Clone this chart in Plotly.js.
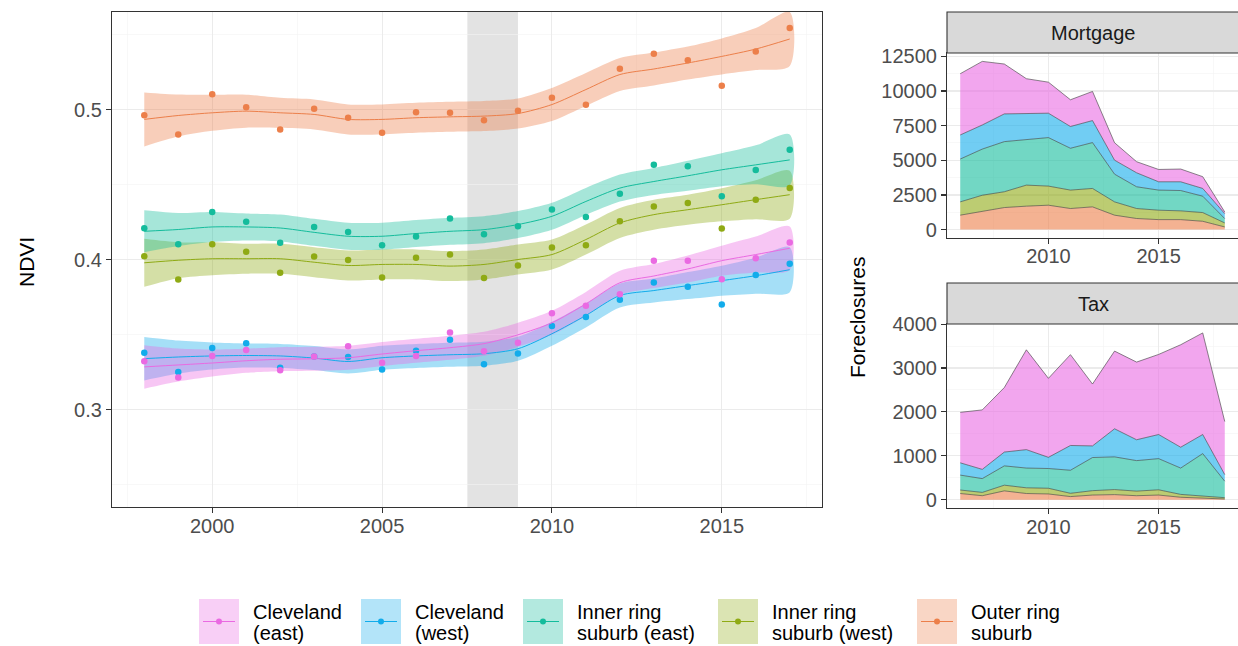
<!DOCTYPE html>
<html>
<head>
<meta charset="utf-8">
<script src="https://cdn.plot.ly/plotly-3.0.1.min.js"></script>
<style>html,body{margin:0;padding:0;background:#fff;}#chart{width:1238px;height:646px;}</style>
</head>
<body>
<div id="chart"></div>
<script>
// ---------------- DATA ----------------
const years = [1998,1999,2000,2001,2002,2003,2004,2005,2006,2007,2008,2009,2010,2011,2012,2013,2014,2015,2016,2017];
const seriesNames = ["Cleveland (east)","Cleveland (west)","Inner ring suburb (east)","Inner ring suburb (west)","Outer ring suburb"];
const legendLines = [["Cleveland","(east)"],["Cleveland","(west)"],["Inner ring","suburb (east)"],["Inner ring","suburb (west)"],["Outer ring","suburb"]];

// NDVI observations
const ndviClevEast  = [0.3321,0.3213,0.3357,0.3397,0.3261,0.3354,0.3421,0.3312,0.3357,0.3514,0.3388,0.3445,0.3642,0.3691,0.3769,0.3992,0.3992,0.3868,0.4008,0.4114];
const ndviClevWest  = [0.3379,0.3250,0.3410,0.3441,0.3279,0.3354,0.3350,0.3266,0.3392,0.3465,0.3301,0.3374,0.3556,0.3616,0.3731,0.3846,0.3819,0.3700,0.3897,0.3972];
const ndviInnerEast = [0.4208,0.4102,0.4317,0.4252,0.4111,0.4217,0.4184,0.4095,0.4153,0.4274,0.4168,0.4221,0.4334,0.4284,0.4439,0.4631,0.4622,0.4421,0.4596,0.4731];
const ndviInnerWest = [0.4022,0.3867,0.4102,0.4051,0.3911,0.4020,0.3996,0.3880,0.4011,0.4033,0.3876,0.3960,0.4080,0.4095,0.4255,0.4354,0.4377,0.4206,0.4399,0.4476];
const ndviOuter     = [0.4962,0.4834,0.5102,0.5015,0.4867,0.5005,0.4945,0.4845,0.4982,0.4978,0.4929,0.4991,0.5078,0.5031,0.5272,0.5372,0.5328,0.5159,0.5387,0.5543];

// Smoothed fits
const fitClevEast  = [0.3284,0.3297,0.3310,0.3325,0.3335,0.3338,0.3345,0.3370,0.3392,0.3412,0.3439,0.3498,0.3578,0.3704,0.3845,0.3890,0.3937,0.3992,0.4033,0.4075];
const fitClevWest  = [0.3339,0.3350,0.3357,0.3360,0.3357,0.3343,0.3320,0.3345,0.3357,0.3365,0.3372,0.3405,0.3505,0.3627,0.3760,0.3793,0.3826,0.3859,0.3892,0.3932];
const fitInnerEast = [0.4188,0.4200,0.4217,0.4217,0.4210,0.4181,0.4155,0.4155,0.4173,0.4188,0.4199,0.4233,0.4288,0.4387,0.4476,0.4520,0.4558,0.4598,0.4631,0.4664];
const fitInnerWest = [0.3978,0.3995,0.4005,0.4005,0.4005,0.3982,0.3960,0.3967,0.3967,0.3956,0.3967,0.4000,0.4033,0.4133,0.4244,0.4299,0.4332,0.4365,0.4399,0.4432];
const fitOuter     = [0.4934,0.4960,0.4978,0.4989,0.4978,0.4967,0.4934,0.4934,0.4945,0.4951,0.4956,0.4973,0.5033,0.5133,0.5233,0.5270,0.5310,0.5354,0.5403,0.5470];

// Confidence half-widths
const seClevEast  = [0.0145,0.011,0.009,0.008,0.008,0.008,0.008,0.008,0.008,0.008,0.008,0.008,0.008,0.008,0.008,0.008,0.009,0.010,0.012,0.0145];
const seClevWest  = [0.0145,0.011,0.009,0.008,0.008,0.008,0.008,0.008,0.008,0.008,0.008,0.008,0.008,0.008,0.008,0.008,0.009,0.010,0.012,0.015];
const seInnerEast = [0.014,0.011,0.010,0.009,0.009,0.009,0.009,0.009,0.009,0.009,0.009,0.009,0.009,0.009,0.009,0.009,0.010,0.011,0.013,0.017];
const seInnerWest = [0.016,0.012,0.011,0.010,0.010,0.010,0.010,0.010,0.010,0.010,0.010,0.010,0.010,0.010,0.010,0.010,0.010,0.011,0.013,0.016];
const seOuter     = [0.018,0.014,0.012,0.011,0.010,0.010,0.010,0.010,0.010,0.010,0.010,0.010,0.011,0.011,0.011,0.011,0.011,0.012,0.014,0.018];

// Foreclosures
const fcYears = [2006,2007,2008,2009,2010,2011,2012,2013,2014,2015,2016,2017,2018];
const mortOuter     = [1040,1300,1590,1690,1760,1520,1640,1040,800,720,720,600,190];
const mortInnerWest = [960,1180,1140,1520,1380,1330,1330,960,720,680,630,630,290];
const mortInnerEast = [3090,3330,3620,3260,3500,3020,3310,2000,1570,1450,1470,1180,310];
const mortClevWest  = [1740,1740,2000,1930,1760,1570,1590,1010,1010,600,630,560,360];
const mortClevEast  = [4420,4590,3600,2490,2240,1930,2100,1260,800,890,920,850,120];

const taxOuter     = [140,90,200,140,130,70,105,115,90,105,55,40,15];
const taxInnerWest = [80,75,130,130,130,75,100,115,105,120,65,45,30];
const taxInnerEast = [340,315,440,450,450,525,755,745,695,710,600,965,375];
const taxClevWest  = [280,210,315,420,255,565,265,640,475,550,475,435,150];
const taxClevEast  = [1150,1355,1470,2275,1800,2070,1410,1770,1770,1825,2335,2315,1210];

const recession = [2007.5, 2009.0];
const ndviTicks = [0.3,0.4,0.5];
const yearTicks = [2000,2005,2010,2015];
const mortTicks = [0,2500,5000,7500,10000,12500];
const taxTicks = [0,1000,2000,3000,4000];

// ---------------- STYLE ----------------
const colors = ["#EA6AE2","#12ACEB","#14BC9C","#8FAA14","#EC7F4A"];
function rgba(hex,a){const n=parseInt(hex.slice(1),16);return `rgba(${(n>>16)&255},${(n>>8)&255},${n&255},${a})`;}
const FONT = "Liberation Sans, Arial, Helvetica, sans-serif";
const W=1238,H=646;
const px = v => v/W, py = v => 1 - v/H;

const obs = [ndviClevEast,ndviClevWest,ndviInnerEast,ndviInnerWest,ndviOuter];
const fits = [fitClevEast,fitClevWest,fitInnerEast,fitInnerWest,fitOuter];
const ses = [seClevEast,seClevWest,seInnerEast,seInnerWest,seOuter];
const mort = [mortClevEast,mortClevWest,mortInnerEast,mortInnerWest,mortOuter];
const tax = [taxClevEast,taxClevWest,taxInnerEast,taxInnerWest,taxOuter];

const traces = [];
// ribbons
for (let i=4;i>=0;i--){
  const up = fits[i].map((v,k)=>v+ses[i][k]);
  const lo = fits[i].map((v,k)=>v-ses[i][k]);
  traces.push({x: years.concat(years.slice().reverse()), y: up.concat(lo.slice().reverse()),
    type:'scatter', mode:'lines', fill:'toself', fillcolor: rgba(colors[i],0.38),
    line:{width:0, shape:'spline', smoothing:0.8}, hoverinfo:'skip', showlegend:false, xaxis:'x', yaxis:'y'});
}
for (let i=4;i>=0;i--){
  traces.push({x: years, y: fits[i], type:'scatter', mode:'lines', line:{color:colors[i], width:1, shape:'spline', smoothing:0.8},
    showlegend:false, xaxis:'x', yaxis:'y', name: seriesNames[i]});
  traces.push({x: years, y: obs[i], type:'scatter', mode:'markers', marker:{color:colors[i], size:6.5},
    showlegend:false, xaxis:'x', yaxis:'y', name: seriesNames[i]});
}
// stacked areas (bottom: outer ring)
for (let i=4;i>=0;i--){
  traces.push({x: fcYears, y: mort[i], type:'scatter', mode:'lines', stackgroup:'m', fillcolor: rgba(colors[i],0.6),
    line:{color:'#3c3c3c', width:0.6}, showlegend:false, xaxis:'x2', yaxis:'y2', name: seriesNames[i]});
}
for (let i=4;i>=0;i--){
  traces.push({x: fcYears, y: tax[i], type:'scatter', mode:'lines', stackgroup:'t', fillcolor: rgba(colors[i],0.6),
    line:{color:'#3c3c3c', width:0.6}, showlegend:false, xaxis:'x3', yaxis:'y3', name: seriesNames[i]});
}

const tickFont = {family:FONT, size:20, color:'#4D4D4D'};
const common = {showline:true, mirror:true, linecolor:'#333333', linewidth:1.1, ticks:'outside', ticklen:5,
  tickcolor:'#333333', tickwidth:1.1, showgrid:true, gridcolor:'#EBEBEB', gridwidth:1.1, zeroline:false,
  tickfont:tickFont, automargin:false, fixedrange:true};

const xLeftDom=[px(112),px(822)], yLeftDom=[py(507),py(12)];
const xRightDom=[px(947),1], yMortDom=[py(238),py(53)], yTaxDom=[py(508),py(324)];
const minorGrid = vals => ({tickvals:vals, showgrid:true, gridcolor:'#F4F4F4', gridwidth:0.6, ticks:''});

const layout = {
  width:W, height:H, margin:{l:0,r:0,t:0,b:0}, paper_bgcolor:'#fff', plot_bgcolor:'#fff',
  showlegend:false, font:{family:FONT},
  xaxis: Object.assign({}, common, {domain:xLeftDom, anchor:'y', range:[1997.05,2017.95], tickvals:yearTicks,
    ticktext:yearTicks.map(String), ticklabelstandoff:-4, minor:minorGrid([1997.5,2002.5,2007.5,2012.5,2017.5])}),
  yaxis: Object.assign({}, common, {domain:yLeftDom, anchor:'x', range:[0.235,0.565], tickvals:ndviTicks,
    ticktext:ndviTicks.map(v=>v.toFixed(1)), minor:minorGrid([0.25,0.35,0.45,0.55])}),
  xaxis2: Object.assign({}, common, {domain:xRightDom, anchor:'y2', range:[2005.4,2018.6], tickvals:[2010,2015],
    ticktext:['2010','2015'], ticklabelstandoff:-5, minor:minorGrid([2007.5,2012.5,2017.5])}),
  yaxis2: Object.assign({}, common, {domain:yMortDom, anchor:'x2', range:[-607,12745], tickvals:mortTicks,
    ticktext:mortTicks.map(String), minor:minorGrid([1250,3750,6250,8750,11250])}),
  xaxis3: Object.assign({}, common, {domain:xRightDom, anchor:'y3', range:[2005.4,2018.6], tickvals:[2010,2015],
    ticktext:['2010','2015'], ticklabelstandoff:-4, minor:minorGrid([2007.5,2012.5,2017.5])}),
  yaxis3: Object.assign({}, common, {domain:yTaxDom, anchor:'x3', range:[-190,4003], tickvals:taxTicks,
    ticktext:taxTicks.map(String), minor:minorGrid([500,1500,2500,3500])}),
  shapes: [
    {type:'rect', xref:'x', yref:'paper', x0:recession[0], x1:recession[1], y0:yLeftDom[0], y1:yLeftDom[1],
     fillcolor:'#E3E3E3', line:{width:0}, layer:'below'},
    {type:'rect', xref:'paper', yref:'paper', x0:xRightDom[0], x1:1.002, y0:yMortDom[1], y1:py(12),
     fillcolor:'#D9D9D9', line:{color:'#333333', width:1.1}},
    {type:'rect', xref:'paper', yref:'paper', x0:xRightDom[0], x1:1.002, y0:yTaxDom[1], y1:py(283),
     fillcolor:'#D9D9D9', line:{color:'#333333', width:1.1}}
  ],
  annotations: [
    {text:'Mortgage', xref:'paper', yref:'paper', x:px(1093), y:py(32.5), showarrow:false, xanchor:'center', yanchor:'middle',
     font:{family:FONT, size:20, color:'#1A1A1A'}},
    {text:'Tax', xref:'paper', yref:'paper', x:px(1093), y:py(303.5), showarrow:false, xanchor:'center', yanchor:'middle',
     font:{family:FONT, size:20, color:'#1A1A1A'}},
    {text:'NDVI', xref:'paper', yref:'paper', x:px(26), y:py(262), showarrow:false, textangle:-90, xanchor:'center', yanchor:'middle',
     font:{family:FONT, size:21, color:'#000'}},
    {text:'Foreclosures', xref:'paper', yref:'paper', x:px(857), y:py(318), showarrow:false, textangle:-90, xanchor:'center', yanchor:'middle',
     font:{family:FONT, size:21, color:'#000'}}
  ]
};

// manual legend (ggplot-style keys)
const keyX = [199,361,523,718,917];
const keyW = 40, keyTop = 599, keyBot = 644, keyMid = 621.5;
for (let i=0;i<5;i++){
  layout.shapes.push({type:'rect', xref:'paper', yref:'paper', x0:px(keyX[i]), x1:px(keyX[i]+keyW), y0:py(keyBot), y1:py(keyTop),
    fillcolor:rgba(colors[i],0.32), line:{width:0}});
  layout.shapes.push({type:'line', xref:'paper', yref:'paper', x0:px(keyX[i]+4), x1:px(keyX[i]+keyW-4), y0:py(keyMid), y1:py(keyMid),
    line:{color:colors[i], width:1}});
  layout.shapes.push({type:'circle', xref:'paper', yref:'paper', x0:px(keyX[i]+keyW/2-3), x1:px(keyX[i]+keyW/2+3), y0:py(keyMid+3), y1:py(keyMid-3),
    fillcolor:colors[i], line:{width:0}});
  legendLines[i].forEach((t,j)=>{
    layout.annotations.push({text:t, xref:'paper', yref:'paper', x:px(keyX[i]+keyW+12), y:py(611.5+j*21.5), showarrow:false,
      xanchor:'left', yanchor:'middle', font:{family:FONT, size:20, color:'#000'}});
  });
}

Plotly.newPlot('chart', traces, layout, {staticPlot:true, displayModeBar:false});
</script>
</body>
</html>
